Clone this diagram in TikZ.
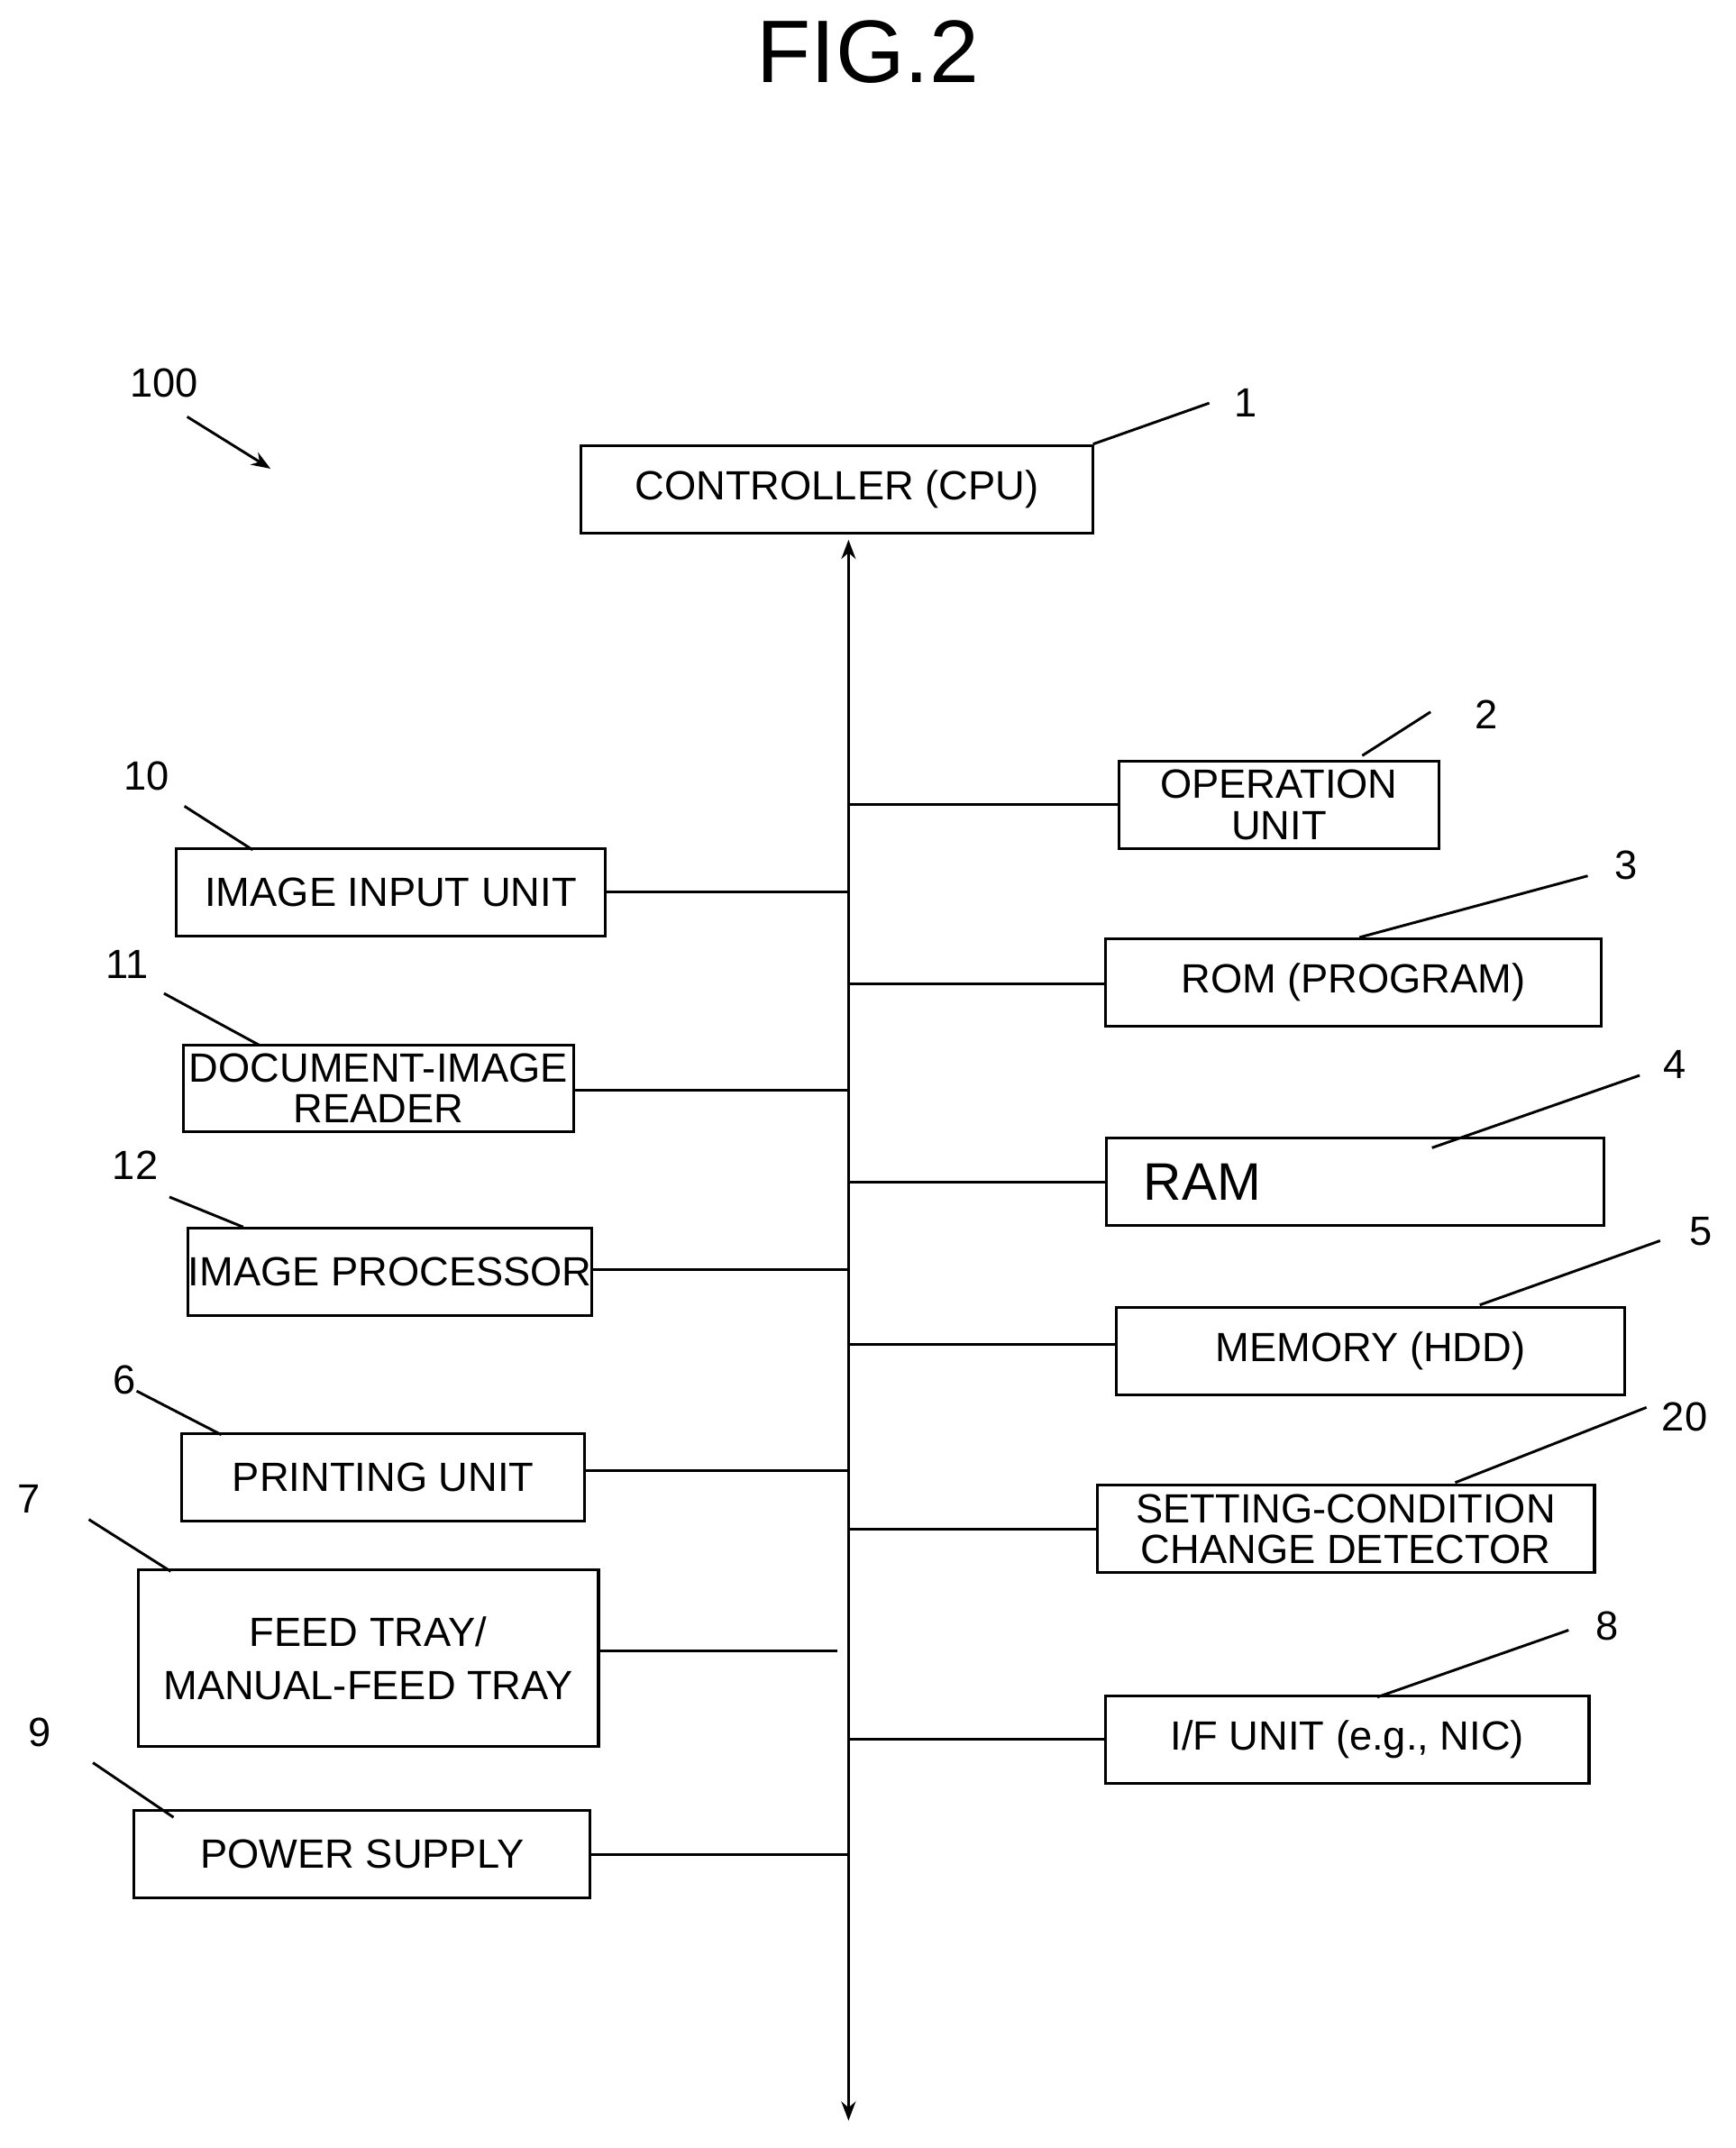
\documentclass[tikz,border=0pt]{standalone}
\usepackage{fontspec}
\setmainfont{Liberation Sans}
\usetikzlibrary{arrows.meta}
\newcommand\bx[6]{\node[box,minimum width={(#4-#2)*0.02cm},minimum height={(#5-#3)*0.02cm}] (#1) at ({(#2+#4)/2},{(#3+#5)/2}) {#6};}
\begin{document}
\begin{tikzpicture}[x=0.02cm,y=-0.02cm,
  box/.style={draw,line width=1.2pt,inner sep=0pt,align=center,font=\fontsize{17}{17}\selectfont},
  lbl/.style={font=\fontsize{17}{20}\selectfont,inner sep=1pt},
  ln/.style={line width=1.1pt}]
\useasboundingbox (0,0) rectangle (1270,1572);
\node[font=\fontsize{37}{40}\selectfont] (fig) at (635,38) {FIG.2};
\bx{ctl}{425}{326}{800}{390}{CONTROLLER (CPU)}
\bx{op}{819}{557}{1053}{621}{OPERATION\\UNIT}
\bx{rom}{809}{687}{1172}{751}{ROM (PROGRAM)}
\node[box,minimum width={364*0.02cm},minimum height={64*0.02cm},align=left,text width={340*0.02cm},font=\fontsize{22}{24}\selectfont] (ram) at (992,865) {\hspace*{0.3cm}RAM};
\bx{mem}{817}{957}{1189}{1021}{MEMORY (HDD)}
\bx{set}{803}{1087}{1167}{1151}{SETTING-CONDITION\\CHANGE DETECTOR}
\bx{if}{809}{1241}{1163}{1305}{I/F UNIT (e.g., NIC)}
\bx{iin}{129}{621}{443}{685}{IMAGE INPUT UNIT}
\bx{doc}{134}{765}{420}{828}{DOCUMENT-IMAGE\\READER}
\bx{ip}{138}{899}{433}{963}{IMAGE PROCESSOR}
\bx{pr}{133}{1049}{428}{1113}{PRINTING UNIT}
\node[box,minimum width={337*0.02cm},minimum height={129*0.02cm},font=\fontsize{17}{22}\selectfont] (ft) at (269.5,1213.5) {FEED TRAY/\\MANUAL-FEED TRAY};
\bx{ps}{98}{1325}{432}{1389}{POWER SUPPLY}
% bus
\coordinate (bt) at (621,395); \coordinate (bb) at (621,1552);
\draw[ln,{Stealth[length=8pt]}-{Stealth[length=8pt]}] (bt) -- (bb);
\foreach \n/\y in {op/589,rom/720,ram/865,mem/984,set/1119,if/1273}{
  \coordinate (r-\n) at (621,\y); \draw[ln] (r-\n) -- (\n.west|-r-\n);}
\foreach \n/\y in {iin/653,doc/798,ip/929,pr/1076,ps/1357}{
  \coordinate (l-\n) at (621,\y); \draw[ln] (l-\n) -- (\n.east|-l-\n);}
\coordinate (l-ft) at (613,1208); \draw[ln] (l-ft) -- (ft.east|-l-ft);
% labels
\node[lbl] (n1) at (912,295) {1}; \draw[ln] (800,325) -- (885,295);
\node[lbl] (n2) at (1088,523) {2}; \draw[ln] (997,553) -- (1047,521);
\node[lbl] (n3) at (1190,633) {3}; \draw[ln] (995,686) -- (1162,641);
\node[lbl] (n4) at (1226,779) {4}; \draw[ln] (1048,840) -- (1200,787);
\node[lbl] (n5) at (1245,901) {5}; \draw[ln] (1083,955) -- (1215,908);
\node[lbl] (n20) at (1233,1037) {20}; \draw[ln] (1065,1085) -- (1205,1030);
\node[lbl] (n8) at (1176,1190) {8}; \draw[ln] (1008,1242) -- (1148,1193);
\node[lbl] (n10) at (107,568) {10}; \draw[ln] (135,590) -- (185,622);
\node[lbl] (n11) at (93,706) {11}; \draw[ln] (120,727) -- (190,765);
\node[lbl] (n12) at (99,853) {12}; \draw[ln] (124,876) -- (178,898);
\node[lbl] (n6) at (91,1010) {6}; \draw[ln] (100,1018) -- (162,1050);
\node[lbl] (n7) at (21,1097) {7}; \draw[ln] (65,1112) -- (125,1150);
\node[lbl] (n9) at (29,1268) {9}; \draw[ln] (68,1290) -- (127,1330);
\node[lbl] (n100) at (120,280) {100}; \draw[ln,-{Stealth[length=8pt]}] (137,305) -- (198,343);
\end{tikzpicture}
\end{document}
